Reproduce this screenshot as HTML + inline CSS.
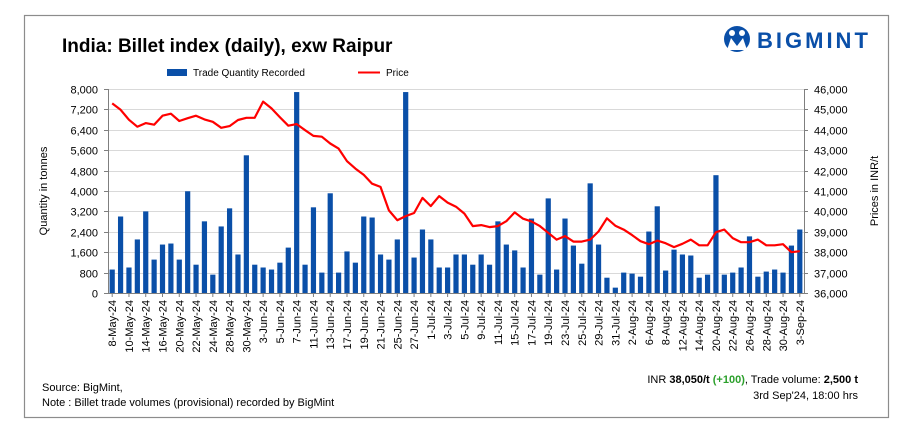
<!DOCTYPE html>
<html><head><meta charset="utf-8"><style>
html,body{margin:0;padding:0;background:#fff;width:924px;height:441px;overflow:hidden}
svg text{font-family:"Liberation Sans Narrow","Liberation Sans",sans-serif}
</style></head><body>
<svg id="chart" width="924" height="441" xmlns="http://www.w3.org/2000/svg">
<rect x="24.5" y="15.5" width="864" height="402" fill="#fff" stroke="#8c8c8c" stroke-width="1.2"/>
<text x="62" y="52" font-size="19" font-weight="bold" fill="#000" style="font-family:'Liberation Sans',sans-serif">India: Billet index (daily), exw Raipur</text>
<g>
<circle cx="737" cy="39" r="13" fill="#0a4fa8"/>
<circle cx="732" cy="33" r="3" fill="#fff"/><circle cx="742" cy="33" r="3" fill="#fff"/>
<path d="M727 50 L731 38 L737 46 L743 38 L747 50 Z" fill="#fff"/>
<text x="757" y="48" font-size="22" font-weight="bold" fill="#0a4fa8" letter-spacing="3" style="font-family:'Liberation Sans',sans-serif">BIGMINT</text>
</g>
<g>
<rect x="167" y="69" width="20" height="7" fill="#0a4fa8"/>
<text x="193" y="76" font-size="10">Trade Quantity Recorded</text>
<line x1="358" y1="72.5" x2="380" y2="72.5" stroke="#f00" stroke-width="2"/>
<text x="386" y="76" font-size="10">Price</text>
</g>
<g id="grid"></g><g id="bars"></g><g id="line"></g><g id="axes"></g>
<text transform="translate(47,191) rotate(-90)" text-anchor="middle" font-size="11">Quantity in tonnes</text>
<text transform="translate(878,191) rotate(-90)" text-anchor="middle" font-size="11">Prices in INR/t</text>
<text x="42" y="391" font-size="11">Source: BigMint,</text>
<text x="42" y="406" font-size="11">Note : Billet trade volumes (provisional) recorded by BigMint</text>
<text x="858" y="383" font-size="11" text-anchor="end">INR <tspan font-weight="bold">38,050/t</tspan> <tspan font-weight="bold" fill="#2ca02c">(+100)</tspan>, Trade volume: <tspan font-weight="bold">2,500 t</tspan></text>
<text x="858" y="399" font-size="11" text-anchor="end">3rd Sep'24, 18:00 hrs</text>
</svg>
<script>
const categories=["8-May-24","9-May-24","10-May-24","13-May-24","14-May-24","15-May-24","16-May-24","18-May-24","20-May-24","21-May-24","22-May-24","23-May-24","24-May-24","27-May-24","28-May-24","29-May-24","30-May-24","31-May-24","3-Jun-24","4-Jun-24","5-Jun-24","6-Jun-24","7-Jun-24","10-Jun-24","11-Jun-24","12-Jun-24","13-Jun-24","14-Jun-24","17-Jun-24","18-Jun-24","19-Jun-24","20-Jun-24","21-Jun-24","24-Jun-24","25-Jun-24","26-Jun-24","27-Jun-24","28-Jun-24","1-Jul-24","2-Jul-24","3-Jul-24","4-Jul-24","5-Jul-24","8-Jul-24","9-Jul-24","10-Jul-24","11-Jul-24","12-Jul-24","15-Jul-24","16-Jul-24","17-Jul-24","18-Jul-24","19-Jul-24","22-Jul-24","23-Jul-24","24-Jul-24","25-Jul-24","26-Jul-24","29-Jul-24","30-Jul-24","31-Jul-24","1-Aug-24","2-Aug-24","5-Aug-24","6-Aug-24","7-Aug-24","8-Aug-24","9-Aug-24","12-Aug-24","13-Aug-24","14-Aug-24","16-Aug-24","20-Aug-24","21-Aug-24","22-Aug-24","23-Aug-24","26-Aug-24","27-Aug-24","28-Aug-24","29-Aug-24","30-Aug-24","2-Sep-24","3-Sep-24"];
const quantity=[920,3000,1000,2100,3200,1310,1900,1940,1310,3990,1110,2810,720,2610,3320,1510,5400,1110,1000,920,1190,1780,7880,1110,3360,800,3910,
800,1630,1190,3000,2960,1510,1310,2100,7880,1390,2490,2100,1000,1000,1510,1510,1110,1510,1110,2810,1900,1670,1000,2920,720,3710,920,
2920,1860,1150,4300,1900,600,210,800,760,640,2410,3400,880,1700,1510,1470,600,720,4620,720,800,1000,2220,640,840,920,800,1860,2490];
const price=[45295,44980,44490,44150,44330,44250,44690,44790,44430,44570,44690,44510,44390,44100,44180,44480,44590,44590,45380,45050,44620,44200,44280,43980,43700,43660,43330,
43080,42460,42100,41790,41360,41200,40050,39570,39770,39920,40660,40260,40750,40430,40230,39890,39280,39330,39230,39280,39520,39950,39640,39510,39280,38950,38620,
38790,38520,38520,38620,39020,39660,39300,39110,38840,38540,38390,38570,38440,38250,38410,38620,38340,38340,38980,39110,38690,38490,38490,38620,38340,38340,38390,38000,38050];
const leftTicks=[0,800,1600,2400,3200,4000,4800,5600,6400,7200,8000];
const rightTicks=[36000,37000,38000,39000,40000,41000,42000,43000,44000,45000,46000];
const NS="http://www.w3.org/2000/svg";
const X0=108,X1=804,Y0=293,Y1=89;
const band=(X1-X0)/categories.length;
const xc=i=>X0+band*(i+0.5);
const yL=v=>Y0-(v/8000)*(Y0-Y1);
const yR=v=>Y0-((v-36000)/10000)*(Y0-Y1);
function mk(tag,attrs,parent){const e=document.createElementNS(NS,tag);for(const k in attrs)e.setAttribute(k,attrs[k]);parent.appendChild(e);return e;}
const grid=document.getElementById('grid'),bars=document.getElementById('bars'),line=document.getElementById('line'),axes=document.getElementById('axes');
leftTicks.forEach((t,i)=>{
  const y=Math.round(yL(t))+0.5;
  if(t>0){const g=mk('line',{x1:X0,x2:X1,y1:y,y2:y,stroke:'#d9d9d9','stroke-width':1},grid);
  
  }
  const tk=mk('line',{x1:X0-4,x2:X0,y1:y,y2:y,stroke:'#7f7f7f'},axes);
  
  
  const tl=mk('text',{x:X0-10,y:y+4,'text-anchor':'end','font-size':11},axes);
  tl.textContent=t.toLocaleString('en-US');
  
  
});
rightTicks.forEach(t=>{
  const y=Math.round(yR(t))+0.5;
  const tk=mk('line',{x1:X1,x2:X1+4,y1:y,y2:y,stroke:'#7f7f7f'},axes);
  
  
  const tl=mk('text',{x:X1+10,y:y+4,'font-size':11},axes);
  tl.textContent=t.toLocaleString('en-US');
  
  
});
quantity.forEach((v,i)=>{
  const y=yL(Math.min(v,8000));
  const b=mk('rect',{x:xc(i)-2.6,y:y,width:5.2,height:Y0-y,fill:'#0a4fa8'},bars);
  
  
});
const pts=price.map((v,i)=>xc(i).toFixed(1)+','+yR(v).toFixed(1)).join(' ');
const pl=mk('polyline',{points:pts,fill:'none',stroke:'#ff0000','stroke-width':2.2,'stroke-linejoin':'round'},line);


const la=mk('line',{x1:X0+0.5,x2:X0+0.5,y1:Y1,y2:Y0,stroke:'#7f7f7f'},axes);


const ra=mk('line',{x1:X1+0.5,x2:X1+0.5,y1:Y1,y2:Y0,stroke:'#7f7f7f'},axes);


const xa=mk('line',{x1:X0,x2:X1,y1:Y0+0.5,y2:Y0+0.5,stroke:'#7f7f7f'},axes);


categories.forEach((c,i)=>{
  if(i%2!==0)return;
  const x=xc(i);
  const tk=mk('line',{x1:x,x2:x,y1:Y0,y2:Y0+4,stroke:'#7f7f7f'},axes);
  
  
  const t=mk('text',{transform:`translate(${(x+4).toFixed(1)},${Y0+7}) rotate(-90)`,'text-anchor':'end','font-size':11},axes);
  t.textContent=c;
  
  
});
</script>
</body></html>
